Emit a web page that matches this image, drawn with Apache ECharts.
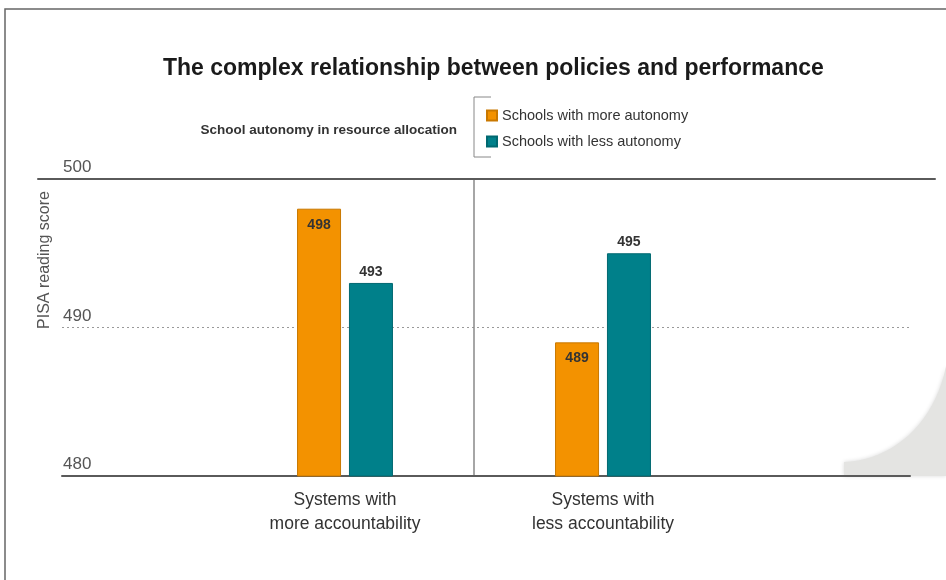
<!DOCTYPE html>
<html>
<head>
<meta charset="utf-8">
<script src="https://cdn.jsdelivr.net/npm/echarts@6/dist/echarts.min.js"></script>
<style>
  html, body { margin: 0; padding: 0; background: #fff; }
  #chart { width: 946px; height: 580px; }
</style>
</head>
<body>
<div id="chart"></div>
<script>
// data
const categories = ['Systems with\nmore accountability', 'Systems with\nless accountability'];
const seriesNames = ['Schools with more autonomy', 'Schools with less autonomy'];
const moreAutonomy = [498, 489];
const lessAutonomy = [493, 495];
const yMin = 480;
const yMax = 500;
const yStep = 10;

const colors = {
    orange: '#F39200',
    orangeEdge: '#C97800',
    teal: '#00808A',
    tealEdge: '#006870',
    text: '#333333',
    axis: '#5a5a5a'
};

const font = 'Liberation Sans, Arial, sans-serif';

// page curl in the bottom right corner (decoration only)
function curlPoints() {
    const p0 = [844, 462], c1 = [892, 460], c2 = [934, 425], p3 = [946, 366];
    const pts = [[844, 476]];
    for (let k = 0; k <= 20; k++) {
        const t = k / 20, u = 1 - t;
        pts.push([
            u * u * u * p0[0] + 3 * u * u * t * c1[0] + 3 * u * t * t * c2[0] + t * t * t * p3[0],
            u * u * u * p0[1] + 3 * u * u * t * c1[1] + 3 * u * t * t * c2[1] + t * t * t * p3[1]
        ]);
    }
    pts.push([946, 476]);
    return pts;
}

const chart = echarts.init(document.getElementById('chart'));

const option = {
    backgroundColor: '#fff',
    animation: false,
    textStyle: { fontFamily: font },
    title: [{
        text: 'The complex relationship between policies and performance',
        left: 158,
        top: 52,
        textStyle: { fontSize: 23, fontWeight: 'bold', color: '#1a1a1a', fontFamily: font }
    }, {
        text: 'School autonomy in resource allocation',
        right: 484,
        top: 118,
        textStyle: { fontSize: 13.5, fontWeight: 'bold', color: colors.text, fontFamily: font }
    }],
    legend: {
        data: seriesNames,
        orient: 'vertical',
        left: 486,
        top: 108,
        padding: 0,
        itemWidth: 10,
        itemHeight: 10,
        itemGap: 11,
        icon: 'rect',
        textStyle: { fontSize: 14.5, color: colors.text, fontFamily: font }
    },
    grid: [
        // top rule (500), a bit wider than the rest
        { left: 38, right: 11, top: 179, height: 297 },
        // main frame: labels, dotted 490, baseline 480
        { left: 62, right: 36, top: 179, height: 297 },
        // bars
        { left: 216, width: 516, top: 179, height: 297 }
    ],
    xAxis: [{
        gridIndex: 0,
        type: 'value',
        position: 'top',
        axisLine: { show: true, onZero: false, lineStyle: { color: colors.axis, width: 2 } },
        axisTick: { show: false },
        axisLabel: { show: false },
        splitLine: { show: false }
    }, {
        gridIndex: 1,
        type: 'value',
        axisLine: { show: true, onZero: false, lineStyle: { color: colors.axis, width: 2 } },
        axisTick: { show: false },
        axisLabel: { show: false },
        splitLine: { show: false }
    }, {
        gridIndex: 2,
        type: 'category',
        data: categories,
        axisLine: { show: false },
        axisTick: { show: false },
        axisLabel: {
            fontSize: 17.5,
            lineHeight: 24,
            color: colors.text,
            margin: 12,
            interval: 0
        },
        // only the divider between the two groups
        splitLine: {
            show: true,
            interval: 0,
            showMinLine: false,
            showMaxLine: false,
            lineStyle: { color: '#888', width: 1.5 }
        }
    }],
    yAxis: [{
        gridIndex: 0,
        type: 'value',
        min: yMin, max: yMax,
        show: false
    }, {
        gridIndex: 1,
        type: 'value',
        min: yMin, max: yMax, interval: yStep,
        axisLine: { show: false },
        axisTick: { show: false },
        axisLabel: {
            inside: true,
            margin: 1,
            fontSize: 17,
            color: '#555',
            verticalAlign: 'bottom',
            padding: [0, 0, 3, 0]
        },
        splitLine: {
            show: true,
            lineStyle: { color: '#999', type: [2, 3], width: 1 }
        }
    }, {
        gridIndex: 2,
        type: 'value',
        min: yMin, max: yMax,
        show: false
    }],
    graphic: [{
        type: 'rect',
        shape: { x: 5, y: 9, width: 1000, height: 600 },
        style: { fill: null, stroke: '#666', lineWidth: 1.5 },
        silent: true
    }, {
        type: 'polyline',
        shape: { points: [[491, 97], [474, 97], [474, 157], [491, 157]] },
        style: { fill: null, stroke: '#888', lineWidth: 1 },
        silent: true
    }, {
        type: 'text',
        x: 45,
        y: 260,
        rotation: Math.PI / 2,
        style: {
            text: 'PISA reading score',
            fontSize: 16,
            fill: '#555',
            fontFamily: font,
            align: 'center',
            verticalAlign: 'middle'
        },
        silent: true
    }, {
        type: 'polygon',
        shape: { points: curlPoints() },
        style: {
            fill: '#e4e4e2',
            shadowColor: 'rgba(0,0,0,0.15)',
            shadowBlur: 4
        },
        z: -1,
        silent: true
    }],
    series: [{
        name: seriesNames[0],
        type: 'bar',
        xAxisIndex: 2,
        yAxisIndex: 2,
        data: moreAutonomy,
        barWidth: 44,
        barGap: '18%',
        itemStyle: { color: colors.orange, borderColor: colors.orangeEdge, borderWidth: 1 },
        label: {
            show: true,
            position: 'insideTop',
            distance: 9,
            fontSize: 14,
            fontWeight: 'bold',
            color: colors.text
        }
    }, {
        name: seriesNames[1],
        type: 'bar',
        xAxisIndex: 2,
        yAxisIndex: 2,
        data: lessAutonomy,
        barWidth: 44,
        barGap: '18%',
        itemStyle: { color: colors.teal, borderColor: colors.tealEdge, borderWidth: 1 },
        label: {
            show: true,
            position: 'top',
            distance: 4,
            fontSize: 14,
            fontWeight: 'bold',
            color: colors.text
        }
    }]
};

chart.setOption(option);
</script>
</body>
</html>
